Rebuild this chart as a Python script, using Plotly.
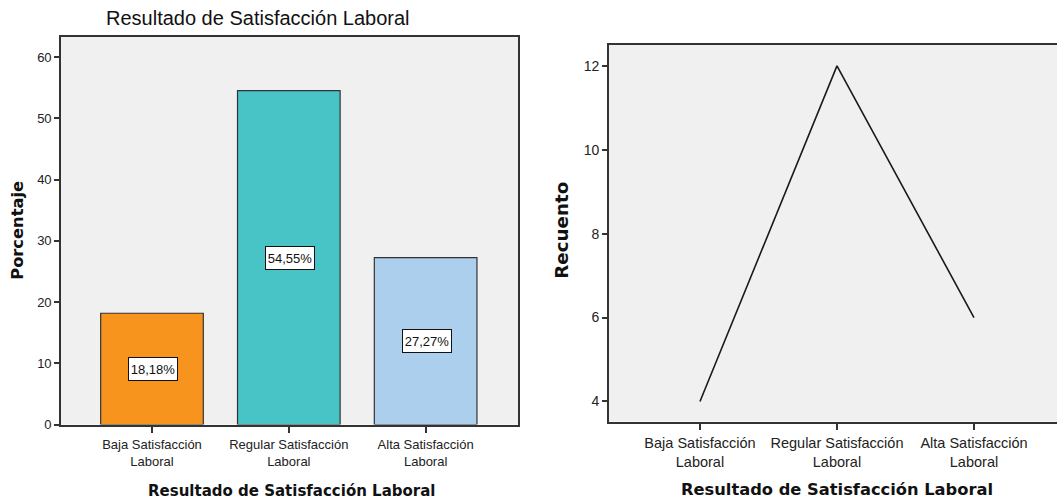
import plotly.graph_objects as go

# Data
categories = ["Baja Satisfacción<br>Laboral", "Regular Satisfacción<br>Laboral", "Alta Satisfacción<br>Laboral"]
porcentaje = [18.18, 54.55, 27.27]
recuento = [4, 12, 6]
bar_colors = ["#F7941D", "#48C3C6", "#ABCFEC"]
pct_ticks = [0, 10, 20, 30, 40, 50, 60]
count_ticks = [4, 6, 8, 10, 12]

W, H = 1057, 501
VSCALE = 0.985  # vertical compression of the rendered page
FONT = "Liberation Sans, Arial, sans-serif"
TITLE_FONT = "DejaVu Sans, Verdana, sans-serif"
AXIS_COLOR = "#333333"
BG = "#F0F0F0"


def px_x(p):
    return p / W


def px_y(p):
    return 1 - (p / VSCALE) / H


fig = go.Figure()

# Left: bar chart of percentages
fig.add_trace(go.Bar(
    x=list(range(len(categories))), y=porcentaje,
    marker=dict(color=bar_colors, line=dict(color="#333333", width=1.2)),
    width=0.75, xaxis="x", yaxis="y", showlegend=False, hoverinfo="skip",
))

# Right: line chart of counts
fig.add_trace(go.Scatter(
    x=list(range(len(categories))), y=recuento, mode="lines",
    line=dict(color="#1a1a1a", width=1.6),
    xaxis="x2", yaxis="y2", showlegend=False, hoverinfo="skip",
))


def axis_style(size):
    return dict(
        showline=True, linecolor=AXIS_COLOR, linewidth=1.6,
        showgrid=False, zeroline=False,
        ticks="outside", tickcolor=AXIS_COLOR, tickwidth=1.6,
        tickfont=dict(family=FONT, size=size, color="#222222"),
    )


fig.update_layout(
    width=W, height=H,
    margin=dict(l=0, r=0, t=0, b=0),
    paper_bgcolor="white",
    plot_bgcolor=BG,
    font=dict(family=FONT, color="#222222"),
    xaxis=dict(
        axis_style(13), domain=[px_x(61), px_x(518)], range=[-0.665, 2.675],
        tickmode="array", tickvals=list(range(len(categories))), ticktext=categories,
        ticklen=7, mirror=True, anchor="y",
    ),
    yaxis=dict(
        axis_style(13), domain=[px_y(425), px_y(37)], range=[0, 63.3],
        tickmode="array", tickvals=pct_ticks, ticktext=[str(t) for t in pct_ticks],
        ticklen=5, mirror=True, anchor="x",
    ),
    xaxis2=dict(
        axis_style(14.5), domain=[px_x(609), 1], range=[-0.664, 2.606],
        tickmode="array", tickvals=list(range(len(categories))), ticktext=categories,
        ticklen=7, mirror=True, anchor="y2",
    ),
    yaxis2=dict(
        axis_style(14), domain=[px_y(422), px_y(45)], range=[3.52, 12.5],
        tickmode="array", tickvals=count_ticks, ticktext=[str(t) for t in count_ticks],
        ticklen=5, mirror=False, anchor="x2",
    ),
)

annotations = []

# Value labels in boxes at half bar height
for i, v in enumerate(porcentaje):
    annotations.append(dict(
        x=i + 0.01, y=v / 2, xref="x", yref="y",
        text=f"{v:.2f}".replace(".", ",") + "%",
        showarrow=False, bgcolor="white", bordercolor="#111111", borderwidth=1,
        width=44, height=18, borderpad=2,
        font=dict(family=FONT, size=13, color="#111111"),
    ))

# Chart title
annotations.append(dict(
    x=px_x(258), y=px_y(18), xref="paper", yref="paper",
    text="Resultado de Satisfacción Laboral", showarrow=False,
    font=dict(family=FONT, size=20, color="#111111"),
    xanchor="center", yanchor="middle",
))

# Axis titles
for xc, yc, label, size in [(292, 491, "Resultado de Satisfacción Laboral", 15),
                            (837, 490, "Resultado de Satisfacción Laboral", 16.3)]:
    annotations.append(dict(
        x=px_x(xc), y=px_y(yc), xref="paper", yref="paper",
        text=f"<b>{label}</b>", showarrow=False,
        font=dict(family=TITLE_FONT, size=size, color="#111111"),
        xanchor="center", yanchor="middle",
    ))

for xc, label, size in [(18, "Porcentaje", 16.3), (562, "Recuento", 18.3)]:
    annotations.append(dict(
        x=px_x(xc), y=px_y(231), xref="paper", yref="paper",
        text=f"<b>{label}</b>", showarrow=False, textangle=-90,
        font=dict(family=TITLE_FONT, size=size, color="#111111"),
        xanchor="center", yanchor="middle",
    ))

fig.update_layout(annotations=annotations)

fig.write_html("out.html")
